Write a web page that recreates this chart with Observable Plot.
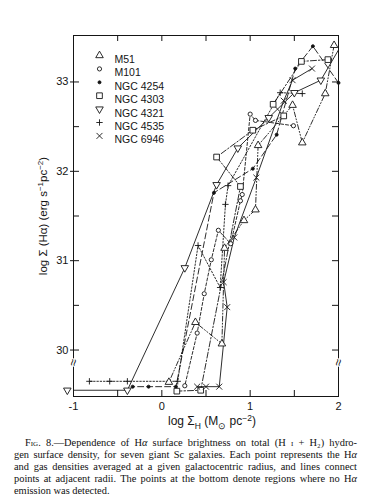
<!DOCTYPE html>
<html><head><meta charset="utf-8">
<script src="https://cdn.jsdelivr.net/npm/d3@7"></script>
<script src="https://cdn.jsdelivr.net/npm/@observablehq/plot@0.6"></script>
<style>
html,body{margin:0;padding:0;background:#fff;}
#page{position:relative;width:370px;height:501px;overflow:hidden;background:#fff;color:#111;}
#hdl{position:absolute;left:14px;top:4px;font:12px "Liberation Serif","DejaVu Serif",serif;}
#hdr{position:absolute;left:336px;top:4px;font:12px "Liberation Serif","DejaVu Serif",serif;white-space:nowrap;letter-spacing:0.5px;}
#chart{position:absolute;left:0;top:0;}
#cap{position:absolute;left:14px;top:437px;width:343px;font:10.4px/12px "Liberation Serif","DejaVu Serif",serif;}
#cap div{text-align:justify;text-align-last:justify;white-space:nowrap;}
#cap div.last{text-align-last:left;}
.sc{font-variant:small-caps;}
</style></head><body><div id="page">
<div id="hdl">694</div>
<div id="hdr">KENNICUTT</div>
<div id="chart"></div>
<div id="cap">
<div style="padding-left:11px"><span class="sc">Fig.</span> 8.—Dependence of H<i>α</i> surface brightness on total (H <span class="sc">i</span> + H₂) hydro-</div>
<div>gen surface density, for seven giant Sc galaxies. Each point represents the H<i>α</i></div>
<div>and gas densities averaged at a given galactocentric radius, and lines connect</div>
<div>points at adjacent radii. The points at the bottom denote regions where no H<i>α</i></div>
<div class="last">emission was detected.</div>
</div>
</div>
<script>
// ---- data ([log Sigma_H, log Sigma(Halpha)]) ----
const galaxies = ["M51", "M101", "NGC 4254", "NGC 4303", "NGC 4321", "NGC 4535", "NGC 6946"];
const m51 = [[1.95,33.41],[1.85,32.87],[1.59,32.32],[1.48,32.74],[1.09,32.29],[1.06,31.57],[0.93,31.45],[0.71,31.14],[0.68,30.07],[0.38,30.31],[0.08,29.64]];
const m101 = [[1.49,32.51],[1.06,32.57],[1.00,32.64],[0.91,31.74],[0.89,31.67],[0.78,31.19],[0.64,31.34],[0.56,31.01],[0.48,30.63],[0.40,30.19],[0.26,29.60]];
const ngc4254 = [[2.00,32.99],[1.71,33.40],[1.51,33.15],[1.30,32.41],[1.03,32.03],[0.59,31.76],[0.16,29.59],[-0.15,29.59],[-0.33,29.59]];
const ngc4303 = [[1.88,33.25],[1.58,33.23],[1.26,32.75],[1.38,32.62],[1.03,32.46],[0.62,32.16],[0.89,31.83],[0.44,29.55],[0.17,29.54]];
const ngc4321 = [[2.06,33.46],[1.80,33.02],[1.50,32.88],[1.21,32.60],[0.86,32.26],[0.62,31.85],[0.26,30.92],[-0.39,29.55],[-1.07,29.55]];
const ngc4535 = [[1.59,32.87],[1.34,32.88],[0.75,31.84],[0.72,31.63],[0.66,30.70],[0.41,31.17],[0.18,29.65],[-0.39,29.65],[-0.59,29.65],[-0.82,29.65]];
const ngc6946 = [[1.70,33.15],[1.48,33.02],[1.38,32.79],[1.07,31.93],[0.82,31.26],[0.70,30.76],[0.74,30.48],[0.65,29.59],[0.50,29.59],[0.40,29.59]];
const xLabels = [-1, 0, 1, 2];
const yLabels = [30, 31, 32, 33];
const xTicks = [-0.5, 0, 0.5, 1, 1.5];
const yTicks = [30, 30.5, 31, 31.5, 32, 32.5, 33];
const breakY = 29.86;

const series = [m51, m101, ngc4254, ngc4303, ngc4321, ngc4535, ngc6946];
const rows = series.flatMap((s, gi) => s.map(([x, y], i) => ({galaxy: galaxies[gi], x, y, i})));

// ---- styles ----
const triDown = {draw(ctx, size) {const y = Math.sqrt(size / (Math.sqrt(3) * 3)); ctx.moveTo(0, y * 2); ctx.lineTo(-Math.sqrt(3) * y, -y); ctx.lineTo(Math.sqrt(3) * y, -y); ctx.closePath();}};
const style = {
  "M51":      {symbol: "triangle", fill: "white", r: 2.8, dash: "5,2,1,2,1,2"},
  "M101":     {symbol: "circle",   fill: "white", r: 2.1, dash: "3,2"},
  "NGC 4254": {symbol: "circle",   fill: "#111",  r: 1.5, dash: "6,3"},
  "NGC 4303": {symbol: "square",   fill: "white", r: 3.2, dash: "6,2,1.5,2"},
  "NGC 4321": {symbol: triDown,    fill: "white", r: 2.8, dash: null},
  "NGC 4535": {symbol: "plus",     fill: "none",  r: 2.2, dash: "1.5,1.8"},
  "NGC 6946": {symbol: "times",    fill: "none",  r: 2.8, dash: null}
};

const W = 370, H = 430, ML = 73, MR = 32, MT = 35, MB = 34;
const FW = W - ML - MR, FH = H - MT - MB;
const ink = "#151515";

const marks = [];
for (const g of galaxies) {
  const st = style[g];
  marks.push(Plot.line(rows.filter(d => d.galaxy === g), {x: "x", y: "y", stroke: ink, strokeWidth: 0.9, strokeDasharray: st.dash, clip: true}));
}
for (const g of galaxies) {
  const st = style[g];
  marks.push(Plot.dot(rows.filter(d => d.galaxy === g && d.x <= 2.01), {x: "x", y: "y", symbol: st.symbol, r: st.r, fill: st.fill, stroke: ink, strokeWidth: 0.9}));
}
// legend
galaxies.forEach((g, i) => {
  const st = style[g];
  marks.push(Plot.dot([g], {frameAnchor: "top-left", dx: 26, dy: 20 + i * 13.4, symbol: st.symbol, r: st.r, fill: st.fill, stroke: ink, strokeWidth: 0.9}));
  marks.push(Plot.text([g], {frameAnchor: "top-left", dx: 41, dy: 20 + i * 13.4, text: d => d, textAnchor: "start", fontSize: 10.5, fill: ink}));
});
// frame, inward ticks
marks.push(Plot.frame({stroke: ink, strokeWidth: 1}));
marks.push(Plot.tickY(yTicks, {y: d => d, insetRight: FW - 6, stroke: ink}));
marks.push(Plot.tickY(yTicks, {y: d => d, insetLeft: FW - 6, stroke: ink}));
marks.push(Plot.tickX(xTicks, {x: d => d, insetTop: FH - 6, stroke: ink}));
marks.push(Plot.tickX(xTicks, {x: d => d, insetBottom: FH - 6, stroke: ink}));
marks.push(Plot.axisY(yLabels, {anchor: "left", tickSize: 3, tickPadding: 2, label: null, fontSize: 11, stroke: ink, tickFormat: d => String(d)}));
marks.push(Plot.axisX(xLabels, {anchor: "bottom", tickSize: 0, tickPadding: 6, label: null, fontSize: 11, tickFormat: d => String(d)}));
// axis breaks
marks.push(Plot.text([xLabels[0], xLabels[3]], {x: d => d, y: breakY, text: () => "≈", fontSize: 13, fill: ink, stroke: "white", strokeWidth: 2, paintOrder: "stroke", rotate: -80}));

const chart = Plot.plot({
  width: W, height: H,
  marginLeft: ML, marginRight: MR, marginTop: MT, marginBottom: MB,
  x: {domain: [-1, 2]},
  y: {domain: [29.48, 33.52]},
  style: {fontFamily: "'Liberation Sans', Arial, sans-serif", fontSize: "11px", background: "white", color: ink, overflow: "visible"},
  marks
});
document.getElementById("chart").appendChild(chart);

// axis titles as rich text
const svg = d3.select(chart);
const yt = svg.append("text").attr("transform", "translate(47,216) rotate(-90)").attr("text-anchor", "middle")
  .attr("font-size", 11.5).attr("fill", ink).attr("font-family", "'Liberation Sans', Arial, sans-serif");
yt.append("tspan").text("log Σ (Hα) (erg s");
yt.append("tspan").attr("dy", -4).attr("font-size", 8).text("−1");
yt.append("tspan").attr("dy", 4).text("pc");
yt.append("tspan").attr("dy", -4).attr("font-size", 8).text("−2");
yt.append("tspan").attr("dy", 4).text(")");
const xt = svg.append("text").attr("x", 212).attr("y", 425).attr("text-anchor", "middle")
  .attr("font-size", 12).attr("fill", ink).attr("font-family", "'Liberation Sans', Arial, sans-serif");
xt.append("tspan").text("log Σ");
xt.append("tspan").attr("dy", 3.5).attr("font-size", 8.5).text("H");
xt.append("tspan").attr("dy", -3.5).text(" (M");
xt.append("tspan").attr("dy", 3.5).attr("font-size", 8.5).text("⊙");
xt.append("tspan").attr("dy", -3.5).text(" pc");
xt.append("tspan").attr("dy", -4).attr("font-size", 8.5).text("−2");
xt.append("tspan").attr("dy", 4).text(")");
</script>
</body></html>
